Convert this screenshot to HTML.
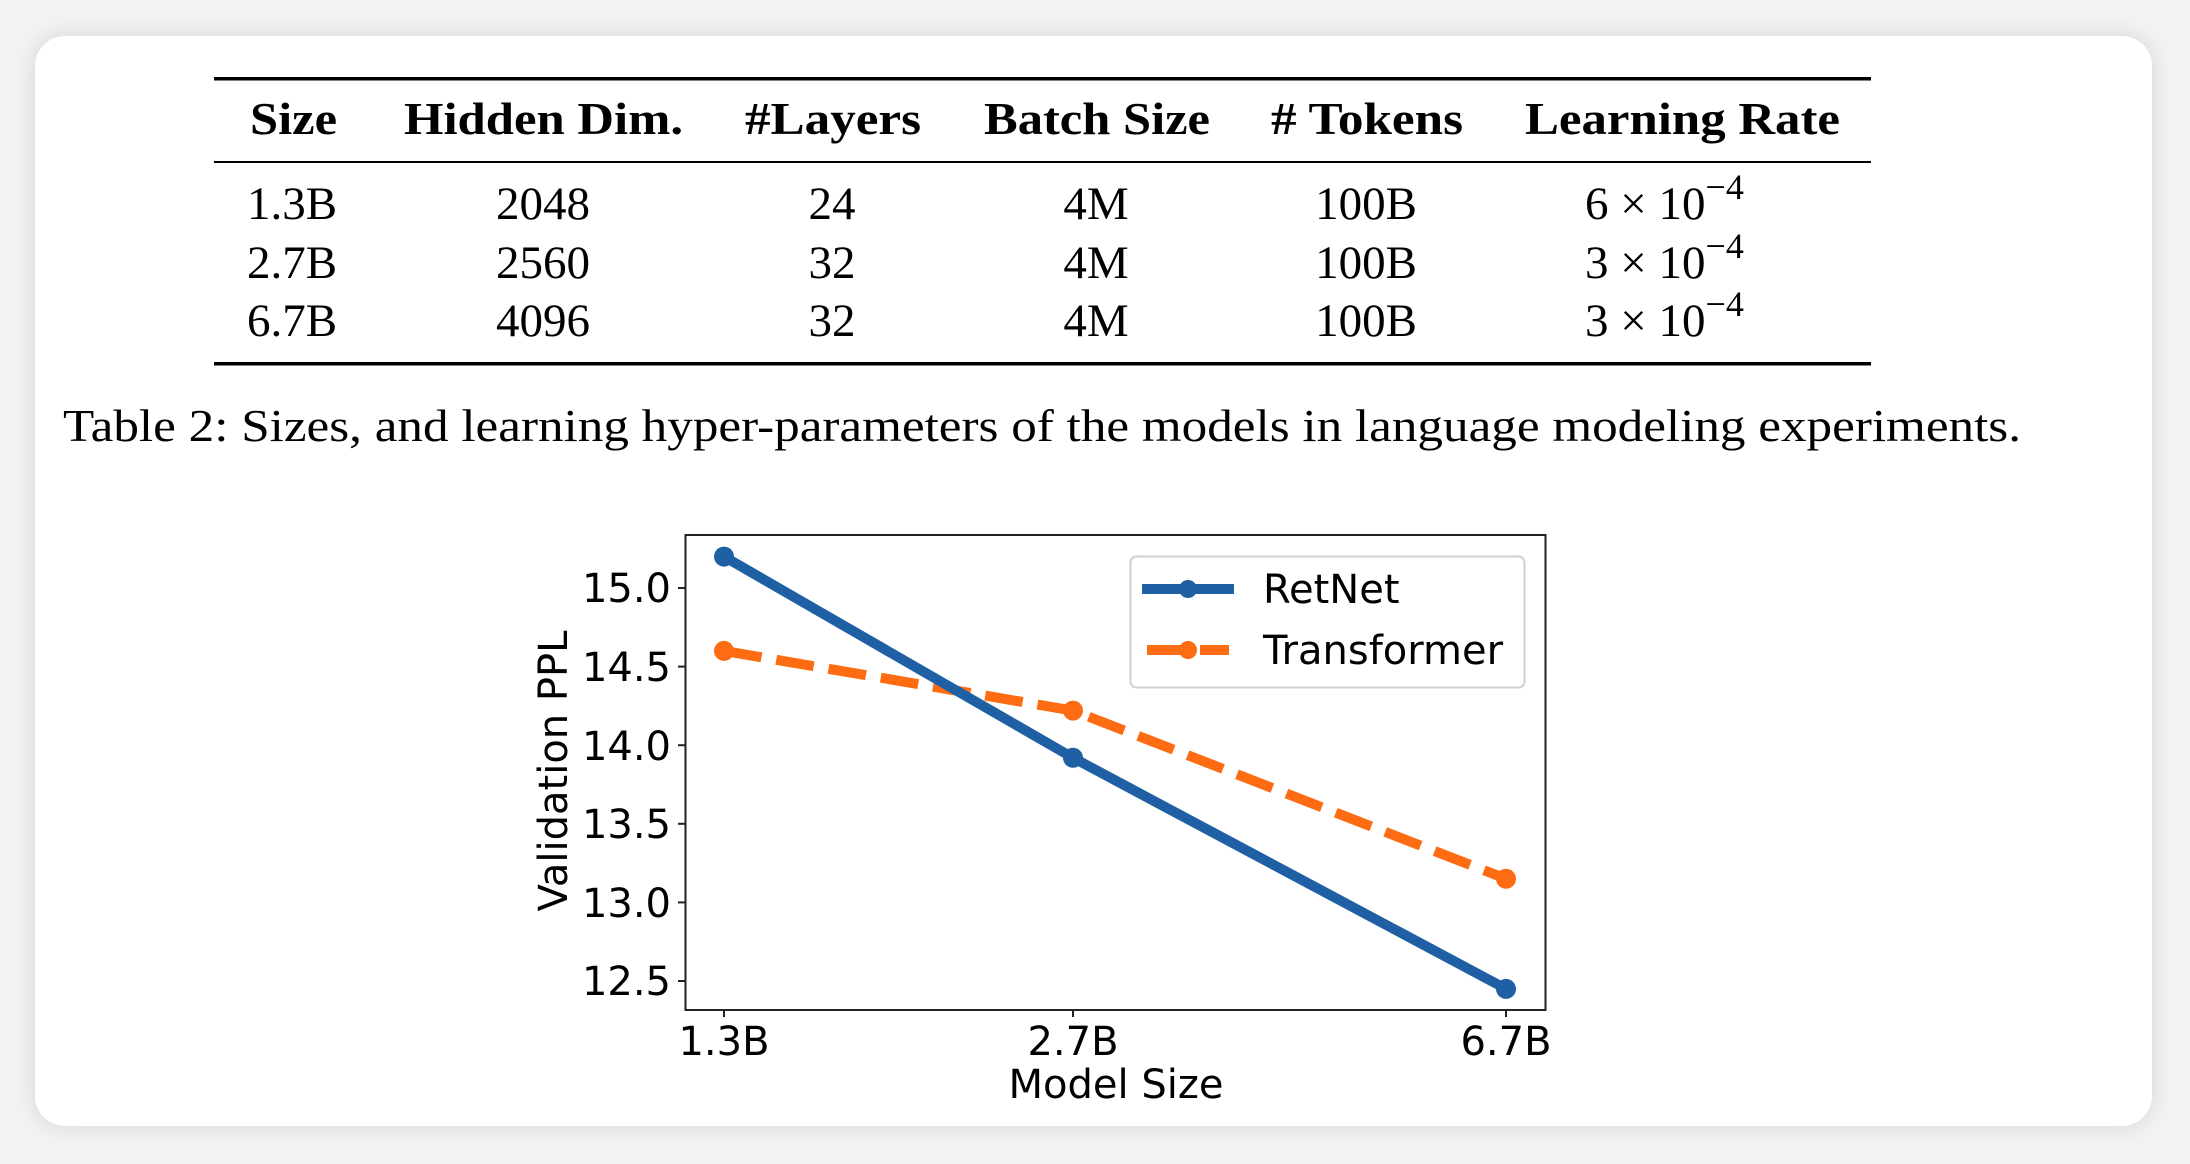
<!DOCTYPE html>
<html><head><meta charset="utf-8"><style>
html,body{margin:0;padding:0;background:#f2f2f2;}
body{width:2190px;height:1164px;position:relative;overflow:hidden;font-family:"Liberation Serif",serif;}
.card{position:absolute;left:35px;top:36px;width:2117px;height:1090px;background:#fff;border-radius:30px;box-shadow:0 0 22px rgba(0,0,0,0.12);}
</style></head><body>
<div class="card"></div>
<svg width="2190" height="1164" style="position:absolute;left:0;top:0">
<g font-family="Liberation Serif, serif" fill="#000">
<rect x="214" y="77" width="1657" height="3.5"/>
<rect x="214" y="161" width="1657" height="2"/>
<rect x="214" y="362" width="1657" height="3.5"/>
<g font-weight="bold" font-size="46" lengthAdjust="spacingAndGlyphs">
<text x="250" y="134" textLength="87" lengthAdjust="spacingAndGlyphs">Size</text>
<text x="404" y="134" textLength="279" lengthAdjust="spacingAndGlyphs">Hidden Dim.</text>
<text x="745" y="134" textLength="176" lengthAdjust="spacingAndGlyphs">#Layers</text>
<text x="984" y="134" textLength="226" lengthAdjust="spacingAndGlyphs">Batch Size</text>
<text x="1271" y="134" textLength="192" lengthAdjust="spacingAndGlyphs"># Tokens</text>
<text x="1525" y="134" textLength="315" lengthAdjust="spacingAndGlyphs">Learning Rate</text>
</g>
<g font-size="47" text-anchor="middle">
<text x="292" y="219">1.3B</text><text x="543" y="219">2048</text><text x="832" y="219">24</text><text x="1096" y="219">4M</text><text x="1366" y="219">100B</text>
<text x="292" y="278">2.7B</text><text x="543" y="278">2560</text><text x="832" y="278">32</text><text x="1096" y="278">4M</text><text x="1366" y="278">100B</text>
<text x="292" y="336">6.7B</text><text x="543" y="336">4096</text><text x="832" y="336">32</text><text x="1096" y="336">4M</text><text x="1366" y="336">100B</text>
</g>
<g font-size="47">
<text x="1585" y="219">6 × 10<tspan font-size="36" dy="-20">−4</tspan></text>
<text x="1585" y="278">3 × 10<tspan font-size="36" dy="-20">−4</tspan></text>
<text x="1585" y="336">3 × 10<tspan font-size="36" dy="-20">−4</tspan></text>
</g>
<text x="63" y="441" font-size="46" textLength="1958" lengthAdjust="spacingAndGlyphs">Table 2: Sizes, and learning hyper-parameters of the models in language modeling experiments.</text>
</g>
<g font-family="DejaVu Sans, sans-serif" font-size="40" fill="#000">
<rect x="685.5" y="535" width="860" height="475" fill="none" stroke="#222" stroke-width="2"/>
<g stroke="#222" stroke-width="2">
<line x1="678" x2="685" y1="588" y2="588"/><line x1="678" x2="685" y1="666.6" y2="666.6"/><line x1="678" x2="685" y1="745.2" y2="745.2"/><line x1="678" x2="685" y1="823.8" y2="823.8"/><line x1="678" x2="685" y1="902.4" y2="902.4"/><line x1="678" x2="685" y1="981" y2="981"/>
<line x1="724" x2="724" y1="1010" y2="1017"/><line x1="1073" x2="1073" y1="1010" y2="1017"/><line x1="1506" x2="1506" y1="1010" y2="1017"/>
</g>
<g text-anchor="end">
<text x="671" y="602">15.0</text><text x="671" y="681">14.5</text><text x="671" y="760">14.0</text><text x="671" y="838">13.5</text><text x="671" y="917">13.0</text><text x="671" y="995">12.5</text>
</g>
<g text-anchor="middle">
<text x="724" y="1055">1.3B</text><text x="1073" y="1055">2.7B</text><text x="1506" y="1055">6.7B</text>
<text x="1116" y="1098">Model Size</text>
<text transform="translate(567,771) rotate(-90)">Validation PPL</text>
</g>
<polyline points="724,650.9 1073,710.6 1506,878.8" fill="none" stroke="#fd6c13" stroke-width="10" stroke-dasharray="38,15"/>
<g fill="#fd6c13"><circle cx="724" cy="650.9" r="10"/><circle cx="1073" cy="710.6" r="10"/><circle cx="1506" cy="878.8" r="10"/></g>
<polyline points="724,556.6 1073,757.8 1506,988.9" fill="none" stroke="#1f60a5" stroke-width="10"/>
<g fill="#1f60a5"><circle cx="724" cy="556.6" r="10"/><circle cx="1073" cy="757.8" r="10"/><circle cx="1506" cy="988.9" r="10"/></g>
<rect x="1130.5" y="556.5" width="394" height="131" rx="6" fill="#fff" fill-opacity="0.85" stroke="#d0d0d0" stroke-width="2"/>
<line x1="1142" x2="1234" y1="589" y2="589" stroke="#1f60a5" stroke-width="10"/><circle cx="1188" cy="589" r="9" fill="#1f60a5"/>
<line x1="1147" x2="1229" y1="650" y2="650" stroke="#fd6c13" stroke-width="10" stroke-dasharray="38,15"/><circle cx="1188" cy="650" r="9" fill="#fd6c13"/>
<text x="1263" y="603">RetNet</text>
<text x="1263" y="664">Transformer</text>
</g>
</svg>
</body></html>
